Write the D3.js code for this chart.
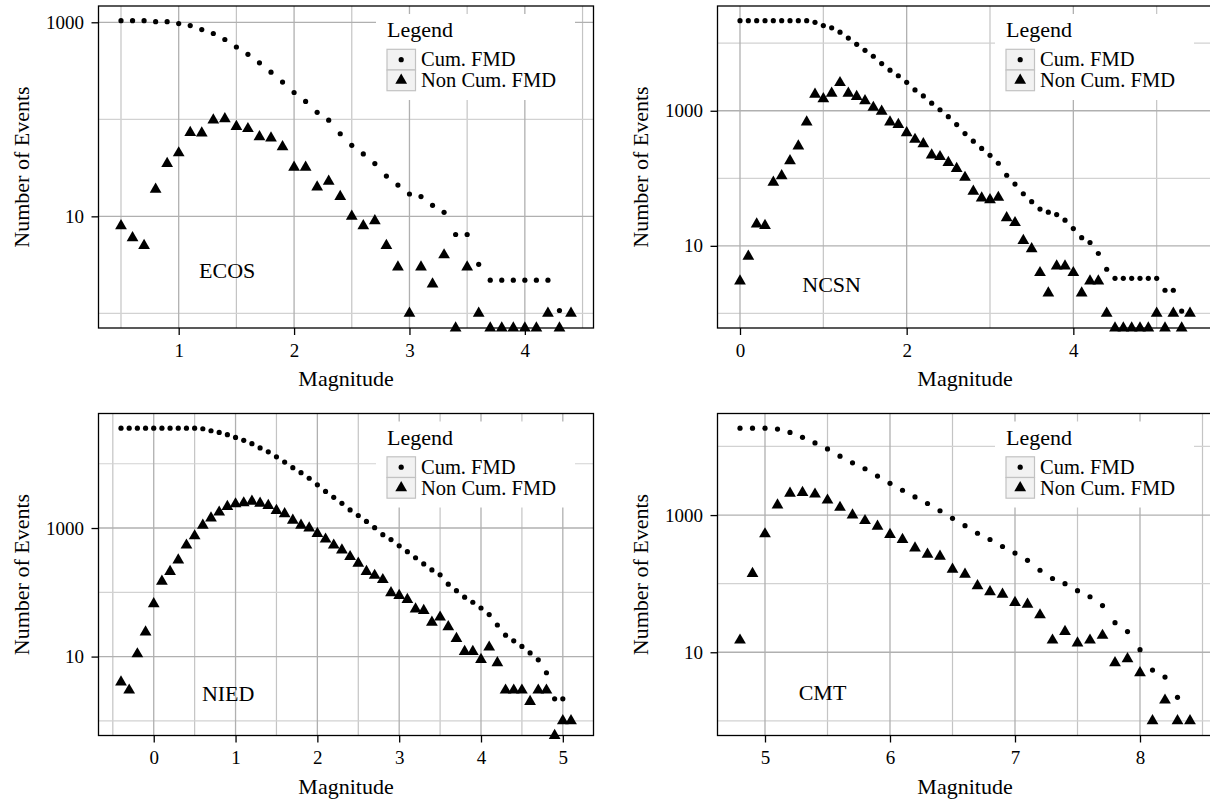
<!DOCTYPE html>
<html>
<head>
<meta charset="utf-8">
<script src="https://cdn.jsdelivr.net/npm/d3@7"></script>
<style>
body { margin: 0; background: #fff; }
svg text { font-family: "Liberation Serif", "Tinos", "Times New Roman", Times, "DejaVu Serif", serif; fill: #000; }
</style>
</head>
<body>
<svg id="chart" width="1210" height="802"></svg>
<script>
// ---- data (0 = empty bin, drawn on the panel floor) ----
var ecosMag = [0.5,0.6,0.7,0.8,0.9,1.0,1.1,1.2,1.3,1.4,1.5,1.6,1.7,1.8,1.9,2.0,2.1,2.2,2.3,2.4,
               2.5,2.6,2.7,2.8,2.9,3.0,3.1,3.2,3.3,3.4,3.5,3.6,3.7,3.8,3.9,4.0,4.1,4.2,4.3,4.4];
var ecosCum = [1040,1040,1040,1015,1015,970,925,841,766,665,556,468,382,306,242,189,153,118,98,71,
               54,44,35,26,21,17,16,13,11,6.5,6.5,3.2,2.2,2.2,2.2,2.2,2.2,2.2,1.07,1];
var ecosNonCum = [8,6,5,19,35,45,73,72,98,101,84,80,66,64,52,32,32,20,23,16,
                  10,8,9,5,3,1,3,2,4,0,3,1,0,0,0,0,0,1,0,1];

var ncsnMag = [0.0,0.1,0.2,0.3,0.4,0.5,0.6,0.7,0.8,0.9,1.0,1.1,1.2,1.3,1.4,1.5,1.6,1.7,1.8,1.9,
               2.0,2.1,2.2,2.3,2.4,2.5,2.6,2.7,2.8,2.9,3.0,3.1,3.2,3.3,3.4,3.5,3.6,3.7,3.8,3.9,
               4.0,4.1,4.2,4.3,4.4,4.5,4.6,4.7,4.8,4.9,5.0,5.1,5.2,5.3,5.4];
var ncsnCum = [21600,21600,21600,21600,21600,21600,21600,21600,21600,20400,18260,16900,14580,11900,9620,7850,6410,5000,3990,3300,
               2635,2033,1660,1295,1035,817,624,460,355,277,219,167,111,82,59,45,35,31.5,29,24,
               18,13.2,11.2,7.7,4.5,3.3,3.3,3.3,3.3,3.3,3.3,2.2,2.2,1.08,1];
var ncsnNonCum = [3,7,21,20,87,109,181,300,682,1755,1500,1815,2605,1815,1622,1400,1120,978,682,623,
                  470,376,324,221,209,171,139,103,64,51,48,52,26,22,12,9,4,2,5,5,
                  4,2,3,3,1,0,0,0,0,0,1,0,1,0,1];

var niedMag = [-0.4,-0.3,-0.2,-0.1,0.0,0.1,0.2,0.3,0.4,0.5,0.6,0.7,0.8,0.9,1.0,1.1,1.2,1.3,1.4,1.5,
               1.6,1.7,1.8,1.9,2.0,2.1,2.2,2.3,2.4,2.5,2.6,2.7,2.8,2.9,3.0,3.1,3.2,3.3,3.4,3.5,
               3.6,3.7,3.8,3.9,4.0,4.1,4.2,4.3,4.4,4.5,4.6,4.7,4.8,4.9,5.0,5.1];
var niedCum = [35800,35800,35800,35800,35800,35800,35800,35800,35800,35800,35000,32600,30700,28300,25700,23100,20500,17600,15300,12800,
               10600,8670,7270,5950,4700,3710,3000,2425,1915,1567,1267,1012,789,662,529,428,345,276,223,187,
               134,106,84,70,57,45,31,21.5,17.6,14.4,11.4,8.9,5.6,2.2,2.2,1];
var niedNonCum = [4,3,11,24,66,148,210,318,541,753,1100,1425,1763,2155,2367,2453,2601,2425,2234,1870,
                  1663,1313,1100,1000,818,670,541,453,358,283,210,183,157,98,89,77,55,52,34,41,
                  29,19,12,12,9,14,8,3,3,3,2,3,3,0,1,1];

var cmtMag = [4.8,4.9,5.0,5.1,5.2,5.3,5.4,5.5,5.6,5.7,5.8,5.9,6.0,6.1,6.2,6.3,6.4,6.5,6.6,6.7,
              6.8,6.9,7.0,7.1,7.2,7.3,7.4,7.5,7.6,7.7,7.8,7.9,8.0,8.1,8.2,8.3,8.4];
var cmtCum = [18500,18500,18500,17900,16000,13600,11250,9210,7210,5770,4730,3700,2900,2300,1840,1475,1156,895,701,543,
              440,348,279,219,157,119,100,79,64.5,48,27,20,10.9,5.5,4.35,2.2,1];
var cmtNonCum = [15,140,531,1397,2080,2127,2013,1648,1291,1000,828,686,520,440,330,267,250,162,137,93,
                 76,70,53,50,35,15,20,13.6,15,17.6,7,8,5,1,2,1,1];

// tick labels
var ecosTicks = [1, 2, 3, 4];
var ncsnTicks = [0, 2, 4];
var niedTicks = [0, 1, 2, 3, 4, 5];
var cmtTicks = [5, 6, 7, 8];
var yTicks = [10, 1000];

// panel names and where they are written (data coordinates)
var panelNames = ["ECOS", "NCSN", "NIED", "CMT"];
var nameAt = [[1.42, 2.8], [1.1, 2.67], [0.91, 2.64], [5.46, 2.62]];
var legendLabels = ["Cum. FMD", "Non Cum. FMD"];

var panels = [
    { mag: ecosMag, cum: ecosCum, non: ecosNonCum, ticks: ecosTicks, col: 0, row: 0 },
    { mag: ncsnMag, cum: ncsnCum, non: ncsnNonCum, ticks: ncsnTicks, col: 1, row: 0 },
    { mag: niedMag, cum: niedCum, non: niedNonCum, ticks: niedTicks, col: 0, row: 1 },
    { mag: cmtMag, cum: cmtCum, non: cmtNonCum, ticks: cmtTicks, col: 1, row: 1 }
];

var serif = "'Liberation Serif', 'Tinos', 'Times New Roman', Times, 'DejaVu Serif', serif";
var W = 495, H = 322;
var colX = [98.5, 717.5], rowY = [6, 413.5];
var svg = d3.select("#chart");
var tri = d3.symbol().type(d3.symbolTriangle).size(60);

panels.forEach(function (p, i) {
    var g = svg.append("g")
        .attr("transform", "translate(" + colX[p.col] + "," + rowY[p.row] + ")");

    // scales, padded by 5% like ggplot
    var xmin = d3.min(p.mag), xmax = d3.max(p.mag), xr = xmax - xmin;
    var x = d3.scaleLinear()
        .domain([xmin - 0.05 * xr, xmax + 0.05 * xr])
        .range([0, W]);

    var pos = p.cum.concat(p.non).filter(function (v) { return v > 0; });
    var lmin = Math.log10(d3.min(pos)), lmax = Math.log10(d3.max(pos)), lr = lmax - lmin;
    var y = d3.scaleLog()
        .domain([Math.pow(10, lmin - 0.05 * lr), Math.pow(10, lmax + 0.05 * lr)])
        .range([H, 0]);
    function yPos(v) { return v > 0 ? y(v) : H; }

    var xd = x.domain(), yd = y.domain();
    var step = p.ticks[1] - p.ticks[0];
    var xMinor = [p.ticks[0] - step / 2].concat(p.ticks.map(function (t) { return t + step / 2; }))
        .filter(function (v) { return v >= xd[0] && v <= xd[1]; });
    var yMinor = [yTicks[0] / 10].concat(yTicks.map(function (t) { return t * 10; }))
        .filter(function (v) { return v >= yd[0] && v <= yd[1]; });

    // grid
    g.selectAll(".xminor").data(xMinor).enter().append("line")
        .attr("x1", function (d) { return x(d); }).attr("x2", function (d) { return x(d); })
        .attr("y1", 0).attr("y2", H)
        .style("stroke", "#c4c4c4").style("stroke-width", 1.2);
    g.selectAll(".yminor").data(yMinor).enter().append("line")
        .attr("y1", function (d) { return y(d); }).attr("y2", function (d) { return y(d); })
        .attr("x1", 0).attr("x2", W)
        .style("stroke", "#d2d2d2").style("stroke-width", 1.2);
    g.selectAll(".xmajor").data(p.ticks).enter().append("line")
        .attr("x1", function (d) { return x(d); }).attr("x2", function (d) { return x(d); })
        .attr("y1", 0).attr("y2", H)
        .style("stroke", "#b0b0b0").style("stroke-width", 1.3);
    g.selectAll(".ymajor").data(yTicks).enter().append("line")
        .attr("y1", function (d) { return y(d); }).attr("y2", function (d) { return y(d); })
        .attr("x1", 0).attr("x2", W)
        .style("stroke", "#b0b0b0").style("stroke-width", 1.3);

    // panel name
    g.append("text")
        .attr("x", x(nameAt[i][0]))
        .attr("y", y(nameAt[i][1]))
        .attr("dy", "0.35em")
        .attr("text-anchor", "middle")
        .style("font-family", serif)
        .style("font-size", "22px")
        .text(panelNames[i]);

    // cumulative: dots, non cumulative: triangles
    g.selectAll(".cum").data(p.mag).enter().append("circle")
        .attr("cx", function (d) { return x(d); })
        .attr("cy", function (d, j) { return yPos(p.cum[j]); })
        .attr("r", 2.6)
        .attr("fill", "#000");
    g.selectAll(".non").data(p.mag).enter().append("path")
        .attr("d", tri)
        .attr("transform", function (d, j) { return "translate(" + x(d) + "," + yPos(p.non[j]) + ")"; })
        .attr("fill", "#000");

    // legend
    var lg = g.append("g").attr("transform", "translate(" + (W - 217.5) + ",8)");
    lg.append("rect").attr("width", 199).attr("height", 86).attr("fill", "#fff");
    lg.append("text").attr("x", 11).attr("y", 23)
        .style("font-family", serif).style("font-size", "22px").text("Legend");
    legendLabels.forEach(function (lab, k) {
        var ky = 35.3 + k * 20.7;
        lg.append("rect").attr("x", 11).attr("y", ky).attr("width", 28.5).attr("height", 20.7)
            .attr("fill", "#f2f2f2").attr("stroke", "#c2c2c2").attr("stroke-width", 1.2);
        if (k === 0) {
            lg.append("circle").attr("cx", 25.2).attr("cy", ky + 10.35).attr("r", 2.6).attr("fill", "#000");
        } else {
            lg.append("path").attr("d", tri)
                .attr("transform", "translate(25.2," + (ky + 10.35) + ")").attr("fill", "#000");
        }
        lg.append("text").attr("x", 45).attr("y", ky + 17)
            .style("font-family", serif).style("font-size", "20.5px").text(lab);
    });

    // border
    g.append("rect").attr("width", W).attr("height", H)
        .attr("fill", "none").attr("stroke", "#000").attr("stroke-width", 1.3);

    // axes
    var xa = g.append("g").attr("transform", "translate(0," + H + ")")
        .call(d3.axisBottom(x).tickValues(p.ticks).tickSize(7).tickPadding(8.5)
            .tickFormat(d3.format("d")));
    var ya = g.append("g")
        .call(d3.axisLeft(y).tickValues(yTicks).tickSize(7).tickPadding(7.5)
            .tickFormat(d3.format("d")));
    [xa, ya].forEach(function (a) {
        a.attr("font-family", null).attr("font-size", null);
        a.select(".domain").remove();
        a.selectAll("line").style("stroke", "#000").style("stroke-width", 1.3);
        a.selectAll("text").style("font-size", "19px")
            .style("font-family", serif).style("fill", "#000");
    });

    // axis titles
    g.append("text")
        .attr("x", W / 2).attr("y", H + 58)
        .attr("text-anchor", "middle")
        .style("font-family", serif).style("font-size", "22px")
        .text("Magnitude");
    g.append("text")
        .attr("transform", "translate(-70," + (H / 2) + ")rotate(-90)")
        .attr("text-anchor", "middle")
        .style("font-family", serif).style("font-size", "22px")
        .text("Number of Events");
});
</script>
</body>
</html>
